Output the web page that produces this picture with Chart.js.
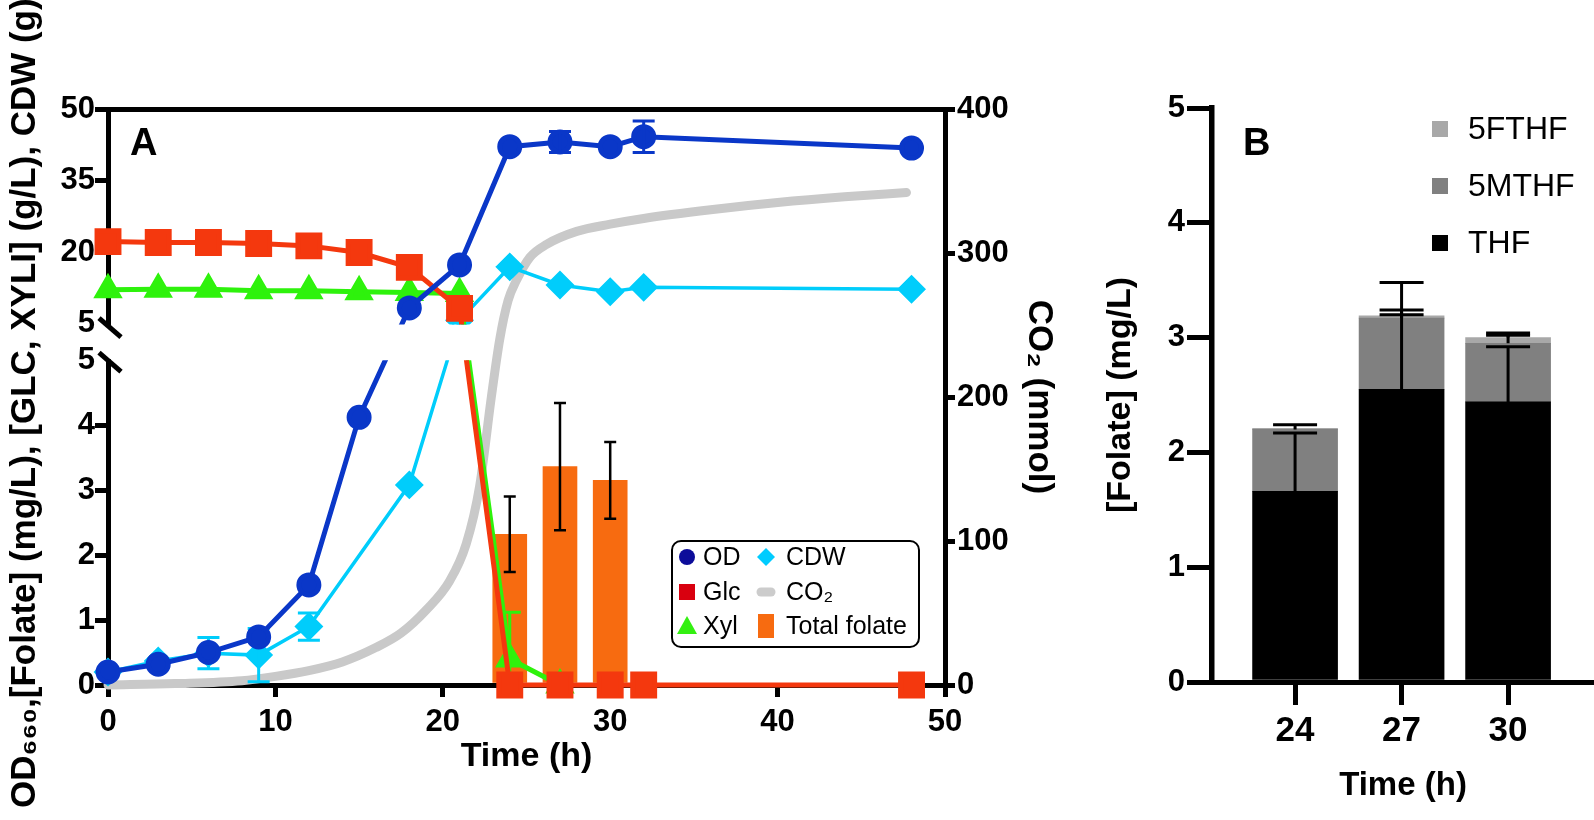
<!DOCTYPE html>
<html>
<head>
<meta charset="utf-8">
<script src="https://cdn.jsdelivr.net/npm/chart.js@4.4.1/dist/chart.umd.min.js"></script>
<style>
  body { margin: 0; background: #fff; }
  #wrap { position: relative; width: 1594px; height: 820px; }
  #boxA { position: absolute; left: 0; top: 0; }
  #boxB { position: absolute; left: 1070px; top: 0; }
</style>
</head>
<body>
<div id="wrap">
  <div id="boxA"><canvas id="chartA" width="1070" height="820"></canvas></div>
  <div id="boxB"><canvas id="chartB" width="524" height="820"></canvas></div>
</div>
<script>
const FONT = "'Liberation Sans', Arial, Helvetica, sans-serif";
Chart.defaults.font.family = FONT;
Chart.defaults.color = '#000';

// ---- panel A : time course ----
const timeA   = [0, 3, 6, 9, 12, 15, 18, 21, 24, 27, 30, 32, 48];
const odVals  = [0.2, 0.32, 0.5, 0.74, 1.54, 4.12, 8.3, 17.3, 42.1, 43.1, 42.1, 44.2, 41.8];
const odErr   = [null, null, null, null, null, null, null, null, null, 2.2, null, 3.3, null];
const glcVals = [22.2, 22.0, 22.0, 21.8, 21.3, 19.9, 16.8, 8.2, 0, 0, 0, 0, 0];
const xylVals = [12.1, 12.2, 12.2, 11.9, 11.9, 11.7, 11.5, 11.3, 0.4, 0, null, null, null];
const xylErr  = [null, null, null, null, null, null, null, null, 0.72, null, null, null, null];
const cdwVals = [0.2, 0.37, 0.49, 0.46, 0.9, null, 3.08, 5.7, 16.9, 13.1, 11.7, 12.6, 12.2];
const cdwErr  = [null, null, 0.24, 0.41, 0.21, null, null, null, null, null, null, null, null];

const folTime = [24, 27, 30];
const folVals = [2.32, 3.36, 3.15];
const folErr  = [0.58, 0.98, 0.59];

const co2Time = [0, 4, 8, 10, 12, 14, 16, 17.5, 19, 20.4, 21.4, 22.2, 22.9, 23.4, 23.9, 24.4, 25.2, 26.2, 28, 30, 32, 36, 40, 44, 47.7];
const co2Vals = [0, 1, 3, 6, 10, 16, 26, 36, 52, 72, 98, 138, 200, 240, 267, 281, 297, 306, 315, 320, 324, 330, 335, 339, 342];

// left axis is broken at 5 (two "5" ticks, one each side of the break)
const BREAK_AT = 5;
const leftTicks = [0, 1, 2, 3, 4, 5, 5.0001, 20, 35, 50];

// ---- panel B : folate species ----
const timeB   = [24, 27, 30];
const thf     = [1.66, 2.55, 2.44];
const mthf    = [0.54, 0.62, 0.51];
const fthf    = [0.01, 0.02, 0.05];
const thfErr  = [0.51, 0.93, 0.48];
const mthfErr = [0.04, 0.07, 0.07];
const fthfErr = [null, 0.01, 0.04];

function pts(xs, ys, errs) {
  return xs.map((x, i) => ({x: x, y: ys[i], e: errs ? errs[i] : null})).filter(p => p.y !== null);
}

// linear scale with a gap: lower part 0-5, upper part 5-50
class BrokenLinearScale extends Chart.LinearScale {
  parts() {
    const h = this.bottom - this.top;
    return {low: h * 0.564, gap: h * 0.0634};
  }
  getPixelForValue(v) {
    const {low, gap} = this.parts();
    if (v <= BREAK_AT) return this.bottom - (v - this.min) / (BREAK_AT - this.min) * low;
    const upBot = this.bottom - low - gap;
    return upBot - (v - BREAK_AT) / (this.max - BREAK_AT) * (upBot - this.top);
  }
  getValueForPixel(p) {
    const {low, gap} = this.parts();
    const upBot = this.bottom - low - gap;
    if (p >= this.bottom - low) return this.min + (this.bottom - p) / low * (BREAK_AT - this.min);
    return BREAK_AT + (upBot - p) / (upBot - this.top) * (this.max - BREAK_AT);
  }
}
BrokenLinearScale.id = 'brokenLinear';
BrokenLinearScale.defaults = Chart.LinearScale.defaults;
Chart.register(BrokenLinearScale);

function drawErr(ctx, x, yHi, yLo, cap, capLow) {
  ctx.beginPath();
  ctx.moveTo(x, yLo); ctx.lineTo(x, yHi);
  ctx.moveTo(x - cap, yHi); ctx.lineTo(x + cap, yHi);
  if (capLow) { ctx.moveTo(x - cap, yLo); ctx.lineTo(x + cap, yLo); }
  ctx.stroke();
}

const legendA = [
  {label: 'OD', shape: 'circle', color: '#0c0c9a'},
  {label: 'Glc', shape: 'square', color: '#d9000f'},
  {label: 'Xyl', shape: 'triangle', color: '#33f011'},
  {label: 'CDW', shape: 'diamond', color: '#00ccff'},
  {label: 'CO₂', shape: 'pill', color: '#cccccc'},
  {label: 'Total folate', shape: 'bar', color: '#f76b10'}
];

function marker(ctx, shape, x, y, color) {
  ctx.fillStyle = color;
  ctx.strokeStyle = color;
  ctx.beginPath();
  if (shape === 'circle') { ctx.arc(x, y, 8, 0, Math.PI * 2); ctx.fill(); }
  else if (shape === 'square') { ctx.fillRect(x - 8, y - 8, 16, 16); }
  else if (shape === 'triangle') { ctx.moveTo(x, y - 10); ctx.lineTo(x + 10, y + 8); ctx.lineTo(x - 10, y + 8); ctx.closePath(); ctx.fill(); }
  else if (shape === 'diamond') { ctx.moveTo(x, y - 9); ctx.lineTo(x + 9, y); ctx.lineTo(x, y + 9); ctx.lineTo(x - 9, y); ctx.closePath(); ctx.fill(); }
  else if (shape === 'pill') { ctx.lineWidth = 9; ctx.lineCap = 'round'; ctx.moveTo(x - 5, y); ctx.lineTo(x + 5, y); ctx.stroke(); }
  else if (shape === 'bar') { ctx.fillRect(x - 8, y - 12, 16, 24); }
}

const panelAPlugin = {
  id: 'panelA',
  beforeDatasetDraw(chart, args) {
    const ds = chart.data.datasets[args.index];
    if (!ds.cutAtBreak) return;
    const y = chart.scales.y, ctx = chart.ctx;
    const gTop = y.getPixelForValue(5.0001) + 1, gBot = y.getPixelForValue(BREAK_AT);
    ctx.save();
    ctx.beginPath();
    ctx.rect(0, 0, chart.width, gTop);
    ctx.rect(0, gBot, chart.width, chart.height - gBot);
    ctx.clip();
  },
  afterDatasetDraw(chart, args) {
    const ds = chart.data.datasets[args.index];
    if (ds.errColor) {
      const ctx = chart.ctx, ys = chart.scales[ds.yAxisID];
      ctx.save();
      ctx.strokeStyle = ds.errColor;
      ctx.lineWidth = ds.errWidth;
      args.meta.data.forEach((el, i) => {
        const p = ds.data[i];
        if (p.e == null) return;
        drawErr(ctx, el.x, ys.getPixelForValue(p.y + p.e), ys.getPixelForValue(Math.max(0, p.y - p.e)), ds.errCap, true);
      });
      ctx.restore();
    }
    if (ds.cutAtBreak) chart.ctx.restore();
  },
  afterDraw(chart) {
    const ctx = chart.ctx, y = chart.scales.y;
    const ax = chart.chartArea.left;
    const pUp = y.getPixelForValue(5.0001), pLow = y.getPixelForValue(BREAK_AT);
    ctx.save();
    // gap in the left axis line and the break marks
    ctx.fillStyle = '#fff';
    ctx.fillRect(ax - 5, pUp + 2, 10, pLow - pUp - 3);
    ctx.strokeStyle = '#000';
    ctx.lineWidth = 5;
    [pUp + 4, pLow + 2].forEach(yc => {
      ctx.beginPath();
      ctx.moveTo(ax - 9, yc - 9.5);
      ctx.lineTo(ax + 13, yc + 9.5);
      ctx.stroke();
    });
    // panel letter
    ctx.fillStyle = '#000';
    ctx.font = 'bold 38px ' + FONT;
    ctx.textBaseline = 'alphabetic';
    ctx.textAlign = 'left';
    ctx.fillText('A', 130, 155);
    // left axis title (longer than the axis, so drawn by hand)
    ctx.save();
    ctx.translate(25, 808);
    ctx.rotate(-Math.PI / 2);
    ctx.font = 'bold 35px ' + FONT;
    ctx.textBaseline = 'middle';
    ctx.fillText('OD₆₆₀,[Folate] (mg/L), [GLC, XYLI] (g/L), CDW (g)', 0, 0);
    ctx.restore();
    // legend box
    ctx.lineWidth = 2;
    ctx.beginPath();
    ctx.roundRect(672, 541, 247, 106, 9);
    ctx.stroke();
    const colX = [687, 766], textX = [703, 786], rowY = [557, 592, 626];
    ctx.font = '25px ' + FONT;
    legendA.forEach((it, i) => {
      const c = Math.floor(i / 3), r = i % 3;
      ctx.save();
      marker(ctx, it.shape, colX[c], rowY[r], it.color);
      ctx.restore();
      ctx.fillStyle = '#000';
      ctx.textBaseline = 'middle';
      ctx.fillText(it.label, textX[c], rowY[r] + 1);
    });
    ctx.restore();
  }
};

const tickFont = {size: 31, weight: 'bold'};

new Chart(document.getElementById('chartA'), {
  type: 'line',
  data: {
    datasets: [
      {label: 'OD', data: pts(timeA, odVals, odErr), borderColor: '#0a37c8', backgroundColor: '#0a37c8',
       borderWidth: 5, pointStyle: 'circle', pointRadius: 10, yAxisID: 'y', order: 1,
       cutAtBreak: true, errColor: '#0a37c8', errWidth: 3, errCap: 11},
      {label: 'Glc', data: pts(timeA, glcVals), borderColor: '#f4380e', backgroundColor: '#f4380e',
       borderWidth: 5, pointStyle: 'rect', pointRadius: 15.5, yAxisID: 'y', order: 2, cutAtBreak: true},
      {label: 'Xyl', data: pts(timeA, xylVals, xylErr), borderColor: '#2ef20c', backgroundColor: '#2ef20c',
       borderWidth: 5, pointStyle: 'triangle', pointRadius: 12, yAxisID: 'y', order: 3,
       cutAtBreak: true, errColor: '#2ef20c', errWidth: 3, errCap: 11},
      {label: 'CDW', data: pts(timeA, cdwVals, cdwErr), borderColor: '#00cdfb', backgroundColor: '#00cdfb',
       borderWidth: 3.5, pointStyle: 'rectRot', pointRadius: 12, yAxisID: 'y', order: 4,
       cutAtBreak: true, errColor: '#00cdfb', errWidth: 3, errCap: 11},
      {label: 'CO₂', data: pts(co2Time, co2Vals), borderColor: '#c9c9c9', borderWidth: 9,
       pointRadius: 0, cubicInterpolationMode: 'monotone', borderCapStyle: 'round', yAxisID: 'y2', order: 6},
      {type: 'bar', label: 'Total folate', data: pts(folTime, folVals, folErr), backgroundColor: '#f76b10',
       barThickness: 34, yAxisID: 'y', order: 5, errColor: '#000', errWidth: 2.5, errCap: 6}
    ]
  },
  options: {
    responsive: false,
    animation: false,
    clip: false,
    layout: {padding: {top: 109, left: 0, right: 0, bottom: 0}},
    plugins: {legend: {display: false}, tooltip: {enabled: false}},
    scales: {
      x: {
        type: 'linear', position: 'bottom', min: 0, max: 50, offset: false,
        ticks: {stepSize: 10, font: tickFont, padding: 7, color: '#000'},
        grid: {drawOnChartArea: false, offset: false, tickLength: 12, lineWidth: 5, color: '#000'},
        border: {display: true, width: 5, color: '#000'},
        title: {display: true, text: 'Time (h)', font: {size: 34, weight: 'bold'}, color: '#000', padding: {top: 0, bottom: 43}},
        afterFit: s => { s.height = 135; }
      },
      xTop: {
        type: 'linear', position: 'top', min: 0, max: 50,
        ticks: {display: false},
        grid: {display: false, drawTicks: false},
        border: {display: true, width: 5, color: '#000'},
        afterFit: s => { s.height = 0; }
      },
      y: {
        type: 'brokenLinear', position: 'left', min: 0, max: 50,
        afterBuildTicks: s => { s.ticks = leftTicks.map(v => ({value: v})); },
        ticks: {autoSkip: false, font: tickFont, padding: 0, color: '#000', callback: v => String(Math.round(v))},
        grid: {
          drawOnChartArea: false, tickLength: 13, lineWidth: 5,
          color: c => (c.tick && Math.abs(c.tick.value - BREAK_AT) < 0.01) ? 'rgba(0,0,0,0)' : '#000'
        },
        border: {display: true, width: 5, color: '#000'},
        afterFit: s => { s.width = 108; }
      },
      y2: {
        type: 'linear', position: 'right', min: 0, max: 400,
        ticks: {stepSize: 100, font: tickFont, padding: 2, color: '#000'},
        grid: {drawOnChartArea: false, tickLength: 10, lineWidth: 5, color: '#000'},
        border: {display: true, width: 5, color: '#000'},
        title: {display: true, text: 'CO₂ (mmol)', font: {size: 35, weight: 'bold'}, color: '#000', padding: {top: 10, bottom: 0}},
        afterFit: s => { s.width = 125; }
      }
    }
  },
  plugins: [panelAPlugin]
});

// ---- panel B ----
const panelBPlugin = {
  id: 'panelB',
  afterDatasetsDraw(chart) {
    const ctx = chart.ctx, ys = chart.scales.y;
    const cum = timeB.map(() => 0);
    ctx.save();
    ctx.strokeStyle = '#000';
    ctx.lineWidth = 3;
    chart.data.datasets.forEach((ds, k) => {
      const meta = chart.getDatasetMeta(k);
      ds.data.forEach((p, i) => {
        cum[i] += p.y;
        const e = ds.errUp[i];
        if (e == null) return;
        drawErr(ctx, meta.data[i].x, ys.getPixelForValue(cum[i] + e), ys.getPixelForValue(cum[i]), 22, false);
      });
    });
    ctx.restore();
  },
  afterDraw(chart) {
    const ctx = chart.ctx;
    ctx.save();
    ctx.fillStyle = '#000';
    ctx.font = 'bold 38px ' + FONT;
    ctx.fillText('B', 173, 155);
    ctx.font = '32px ' + FONT;
    ctx.textBaseline = 'middle';
    const rows = [129, 186, 243];
    chart.data.datasets.slice().reverse().forEach((ds, i) => {
      ctx.fillStyle = ds.backgroundColor;
      ctx.fillRect(362, rows[i] - 8, 16, 16);
      ctx.fillStyle = '#000';
      ctx.fillText(ds.label, 398, rows[i] + 1);
    });
    ctx.restore();
  }
};

new Chart(document.getElementById('chartB'), {
  type: 'bar',
  data: {
    datasets: [
      {label: 'THF', data: pts(timeB, thf), backgroundColor: '#000000', errUp: thfErr},
      {label: '5MTHF', data: pts(timeB, mthf), backgroundColor: '#808080', errUp: mthfErr},
      {label: '5FTHF', data: pts(timeB, fthf), backgroundColor: '#a8a8a8', errUp: fthfErr}
    ]
  },
  options: {
    responsive: false,
    animation: false,
    barThickness: 85,
    layout: {padding: {top: 108, left: 0, right: 0, bottom: 0}},
    plugins: {legend: {display: false}, tooltip: {enabled: false}},
    scales: {
      x: {
        type: 'linear', stacked: true, min: 21.66, max: 32.42, offset: false,
        afterBuildTicks: s => { s.ticks = timeB.map(v => ({value: v})); },
        ticks: {autoSkip: false, font: {size: 35, weight: 'bold'}, padding: 5, color: '#000'},
        grid: {drawOnChartArea: false, offset: false, tickLength: 23, lineWidth: 5, color: '#000'},
        border: {display: true, width: 5, color: '#000'},
        title: {display: true, text: 'Time (h)', font: {size: 33, weight: 'bold'}, color: '#000', padding: {top: 0, bottom: 14}},
        afterFit: s => { s.height = 138; }
      },
      y: {
        type: 'linear', stacked: true, min: 0, max: 5,
        ticks: {stepSize: 1, font: {size: 31, weight: 'bold'}, padding: 2, color: '#000'},
        grid: {drawOnChartArea: false, tickLength: 25, lineWidth: 5, color: '#000'},
        border: {display: true, width: 5.5, color: '#000'},
        title: {display: true, text: '[Folate] (mg/L)', font: {size: 34, weight: 'bold'}, color: '#000', padding: {top: 30, bottom: 0}},
        afterFit: s => { s.width = 142; }
      }
    }
  },
  plugins: [panelBPlugin]
});
</script>
</body>
</html>
